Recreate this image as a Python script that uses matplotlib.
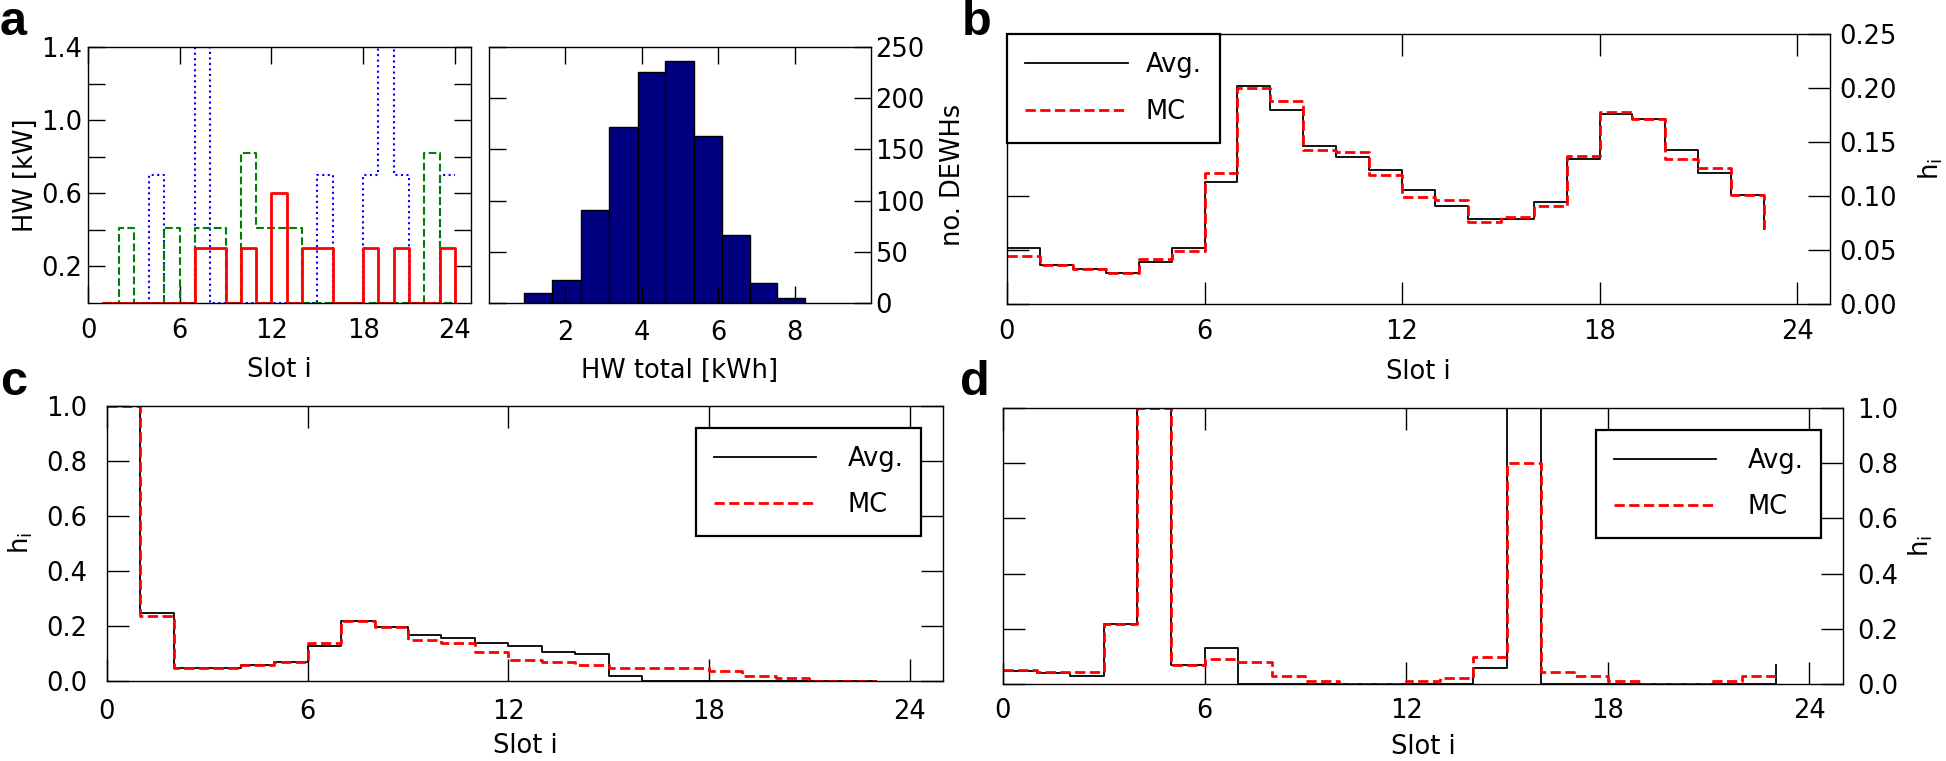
import matplotlib
matplotlib.use("Agg")
import matplotlib.pyplot as plt
import numpy as np

# panel a (left): hot water draws of three example DEWHs, slots 1..24
slots_a = np.arange(1, 25)
hw_red = [0, 0, 0, 0, 0, 0, 0.3, 0.3, 0, 0.3, 0, 0.6, 0, 0.3, 0.3, 0, 0, 0.3, 0, 0.3, 0, 0, 0.3, 0]
hw_blue = [0, 0, 0, 0.7, 0, 0, 1.4, 0, 0, 0, 0, 0, 0, 0, 0.7, 0, 0, 0.7, 1.4, 0.7, 0, 0, 0.7, 0.7]
hw_green = [0, 0.41, 0, 0, 0.41, 0, 0.41, 0.41, 0, 0.82, 0.41, 0.41, 0.41, 0, 0, 0, 0, 0, 0, 0, 0, 0.82, 0, 0]

# panel a (right): histogram of total daily hot water
bin_edges = [0.92, 1.66, 2.40, 3.13, 3.89, 4.62, 5.37, 6.09, 6.82, 7.55, 8.28]
n_dewhs = [10, 22, 91, 172, 226, 236, 163, 66, 20, 5]

# panels b, c, d: h_i, slots 0..23
slots = np.arange(0, 24)
avg_b = [0.052, 0.036, 0.032, 0.029, 0.039, 0.052, 0.113, 0.202, 0.180, 0.146, 0.136, 0.124,
         0.106, 0.091, 0.079, 0.079, 0.094, 0.134, 0.176, 0.171, 0.143, 0.121, 0.101, 0.069]
mc_b = [0.044, 0.036, 0.032, 0.029, 0.042, 0.049, 0.121, 0.200, 0.188, 0.143, 0.141, 0.119,
        0.099, 0.096, 0.076, 0.081, 0.091, 0.137, 0.178, 0.171, 0.134, 0.126, 0.101, 0.069]
avg_c = [1.0, 0.246, 0.048, 0.048, 0.058, 0.070, 0.128, 0.218, 0.197, 0.169, 0.157, 0.137,
         0.128, 0.107, 0.097, 0.018, 0, 0, 0, 0, 0, 0, 0, 0]
mc_c = [1.0, 0.237, 0.048, 0.048, 0.058, 0.068, 0.137, 0.218, 0.195, 0.149, 0.137, 0.107,
        0.076, 0.068, 0.058, 0.048, 0.048, 0.048, 0.038, 0.018, 0.010, 0, 0, 0]
avg_d = [0.048, 0.039, 0.030, 0.217, 1.0, 0.069, 0.129, 0, 0, 0, 0, 0,
         0, 0, 0.059, 1.0, 0, 0, 0, 0, 0, 0, 0, 0.07]
mc_d = [0.051, 0.042, 0.042, 0.217, 1.0, 0.069, 0.089, 0.081, 0.029, 0.011, 0, 0,
        0.011, 0.021, 0.098, 0.80, 0.042, 0.030, 0.011, 0, 0, 0.011, 0.030, 0.030]

W, H = 1946, 761
plt.rcParams['font.size'] = 18.5
plt.rcParams['axes.linewidth'] = 1.0

fig = plt.figure(figsize=(W / 100, H / 100), dpi=100)


# axes from a pixel box (left, top, right, bottom)
def px_axes(l, t, r, b):
    return fig.add_axes([l / W, 1 - b / H, (r - l) / W, (b - t) / H])


def style_ticks(ax, length, xpad, ypad):
    ax.tick_params(direction='in', length=length, width=1, top=True, right=True,
                   left=True, bottom=True)
    ax.tick_params(axis='x', pad=xpad)
    ax.tick_params(axis='y', pad=ypad)


def add_legend(ax, loc, pad, textpad):
    leg = ax.legend(loc=loc, borderaxespad=pad, fancybox=False, framealpha=1,
                    edgecolor='black', handlelength=4.0, handletextpad=textpad,
                    labelspacing=0.8, borderpad=0.7)
    leg.get_frame().set_linewidth(1.6)


slot_ticks = [0, 6, 12, 18, 24]

# ---- a left
ax = px_axes(88, 47, 471, 303)
ax.step(slots_a, hw_blue, where='post', color='blue', ls=':', lw=1.5)
ax.step(slots_a, hw_green, where='post', color='green', ls='--', lw=1.5)
ax.step(slots_a, hw_red, where='post', color='red', ls='-', lw=2)
ax.set_xlim(0, 25.05)
ax.set_ylim(0, 1.4)
ax.set_xticks(slot_ticks)
ax.set_yticks([0.2, 0.4, 0.6, 0.8, 1.0, 1.2, 1.4])
ax.set_yticklabels(['0.2', '', '0.6', '', '1.0', '', '1.4'])
style_ticks(ax, 12, 11, 4)
ax.set_xlabel('Slot i', labelpad=9)
ax.set_ylabel('HW [kW]', labelpad=2)

# ---- a right
ax = px_axes(489, 47, 871, 303)
ax.bar(bin_edges[:-1], n_dewhs, width=np.diff(bin_edges), align='edge',
       color='navy', edgecolor='black', lw=1)
ax.set_xlim(0, 10)
ax.set_ylim(0, 250)
ax.set_xticks([2, 4, 6, 8])
ax.set_yticks([0, 50, 100, 150, 200, 250])
style_ticks(ax, 12, 12, 3)
ax.tick_params(axis='y', labelleft=False, labelright=True)
ax.yaxis.set_label_position('right')
ax.set_xlabel('HW total [kWh]', labelpad=9)
ax.set_ylabel('no. DEWHs', labelpad=11)

# ---- b
ax = px_axes(1007, 34, 1830, 304)
ax.step(slots, avg_b, where='post', color='black', lw=1.3, label='Avg.')
ax.step(slots, mc_b, where='post', color='red', ls='--', lw=2, label='MC')
ax.set_xlim(0, 25)
ax.set_ylim(0, 0.25)
ax.set_xticks(slot_ticks)
ax.set_yticks([0, 0.05, 0.10, 0.15, 0.20, 0.25])
ax.set_yticklabels(['0.00', '0.05', '0.10', '0.15', '0.20', '0.25'])
style_ticks(ax, 16, 11, 7)
ax.tick_params(axis='y', labelleft=False, labelright=True)
ax.yaxis.set_label_position('right')
ax.set_xlabel('Slot i', labelpad=10)
ax.set_ylabel(r'h$_{\rm i}$', labelpad=14)
add_legend(ax, 'upper left', 0, 0.7)

# ---- c
ax = px_axes(107, 406, 943, 681)
ax.step(slots, avg_c, where='post', color='black', lw=1.3, label='Avg.')
ax.step(slots, mc_c, where='post', color='red', ls='--', lw=2, label='MC')
ax.set_xlim(0, 25)
ax.set_ylim(0, 1.0)
ax.set_xticks(slot_ticks)
ax.set_yticks([0, 0.2, 0.4, 0.6, 0.8, 1.0])
style_ticks(ax, 16, 13, 14)
ax.set_xlabel('Slot i', labelpad=6)
ax.set_ylabel(r'h$_{\rm i}$', labelpad=8)
add_legend(ax, 'upper right', 0.85, 1.2)

# ---- d
ax = px_axes(1003, 408, 1843, 684)
ax.step(slots, avg_d, where='post', color='black', lw=1.3, label='Avg.')
ax.step(slots, mc_d, where='post', color='red', ls='--', lw=2, label='MC')
ax.set_xlim(0, 25)
ax.set_ylim(0, 1.0)
ax.set_xticks(slot_ticks)
ax.set_yticks([0, 0.2, 0.4, 0.6, 0.8, 1.0])
style_ticks(ax, 16, 10, 10)
ax.tick_params(axis='y', labelleft=False, labelright=True)
ax.yaxis.set_label_position('right')
ax.set_xlabel('Slot i', labelpad=7)
ax.set_ylabel(r'h$_{\rm i}$', labelpad=6)
add_legend(ax, 'upper right', 0.85, 1.2)

# panel letters
for letter, x, y in [('a', 0, 35), ('b', 962, 35), ('c', 0, 395), ('d', 960, 395)]:
    fig.text(x / W, 1 - y / H, letter, fontsize=35, fontweight='bold',
             family='Liberation Sans', ha='left', va='baseline')

fig.savefig('out.png', dpi=100)
